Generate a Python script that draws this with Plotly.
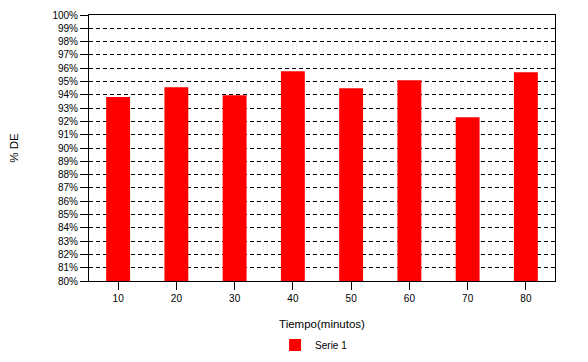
import plotly.graph_objects as go

categories = ["10", "20", "30", "40", "50", "60", "70", "80"]
values = [93.83, 94.56, 93.96, 95.77, 94.49, 95.09, 92.31, 95.69]
y_ticks = list(range(80, 101))
y_tick_labels = [f"{v}%" for v in y_ticks]

fig = go.Figure()
fig.add_trace(go.Bar(
    x=categories, y=values, name="Serie 1",
    marker=dict(color="#FF0000", line=dict(width=0)),
    width=0.41,
))

font = "Liberation Sans, Arial, sans-serif"
fig.update_layout(
    width=580, height=354,
    margin=dict(l=81, r=33, t=7, b=81, autoexpand=False),
    paper_bgcolor="white", plot_bgcolor="white",
    font=dict(family=font, size=10, color="black"),
    showlegend=True,
    legend=dict(orientation="h", xref="paper", x=0.483, xanchor="center",
                yref="container", y=0.048, yanchor="middle",
                font=dict(size=10), itemwidth=30),
    xaxis=dict(
        type="category",
        showline=True, linecolor="black", linewidth=1, mirror=True,
        ticks="outside", ticklen=8, tickcolor="black",
        showgrid=False, automargin=False,
        title=dict(text="Tiempo(minutos)", font=dict(size=11.5), standoff=16),
    ),
    yaxis=dict(
        range=[80, 100],
        tickvals=y_ticks, ticktext=y_tick_labels,
        showline=True, linecolor="black", linewidth=1, mirror=True,
        ticks="outside", ticklen=8, tickcolor="black",
        showgrid=True, gridcolor="black", gridwidth=1, griddash="4px,3px",
        zeroline=False, automargin=False,
        title=dict(text="% DE", font=dict(size=11.5), standoff=31),
    ),
)

fig.write_html("out.html")
